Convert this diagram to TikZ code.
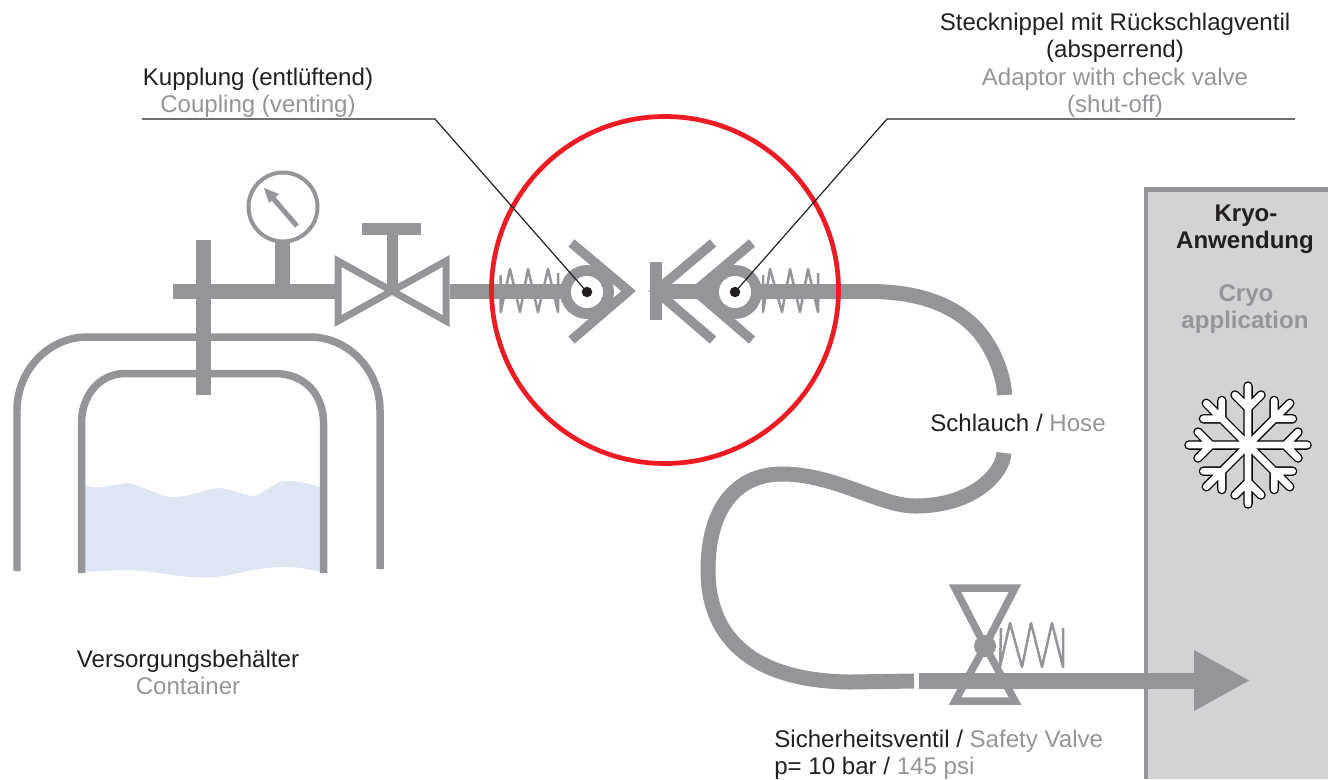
\documentclass[tikz,border=0pt]{standalone}
\usepackage{fontspec}
\setmainfont{Liberation Sans}
\definecolor{pipegrey}{HTML}{939598}
\definecolor{textgrey}{HTML}{939598}
\definecolor{textblack}{HTML}{231F20}
\definecolor{boxgrey}{HTML}{D1D3D4}
\definecolor{liquidblue}{HTML}{DFE6F3}
\definecolor{ringred}{HTML}{ED1C24}
\tikzset{
  pipe/.style={draw=pipegrey,line width=0.3cm},
  wall/.style={draw=pipegrey,line width=0.15cm},
  chevron/.style={draw=pipegrey,line width=0.19cm},
  coil/.style={draw=pipegrey,line width=0.05cm,line join=round},
  leader/.style={draw=textblack,line width=0.024cm},
  dot/.style={circle,fill=textblack,inner sep=0,minimum size=0.21cm},
  txt/.style={font=\fontsize{13.7}{15}\selectfont,inner sep=0,anchor=base,text=textblack},
  txtg/.style={txt,text=textgrey},
  boxtxt/.style={txt,font=\fontsize{13.7}{15}\selectfont\bfseries},
}
\begin{document}
\begin{tikzpicture}[x=0.02cm,y=-0.02cm]
      \useasboundingbox (0,0) rectangle (1328,779);

      % Application box
      \fill[boxgrey] (1146,190) rectangle (1328,779);
      \draw[wall,line width=0.086cm] (1146,779) -- (1146,189.5) -- (1328,189.5);

      % Container
      \fill[liquidblue] (84,483) .. controls (90,490) and (95,488) .. (127,483)
        .. controls (150,488) and (160,497) .. (172,497)
        .. controls (195,497) and (205,488) .. (220,488)
        .. controls (235,490) and (245,496) .. (254,496)
        .. controls (265,494) and (275,480) .. (287,481)
        .. controls (300,481) and (310,484) .. (321,487)
        -- (321,572) .. controls (305,568) and (295,567) .. (287,567)
        .. controls (265,567) and (245,571) .. (230,575)
        .. controls (215,578) and (200,578) .. (180,576)
        .. controls (160,573) and (140,570) .. (123,570)
        -- (84,572) -- cycle;
      \draw[wall] (17,571) -- (17,410) .. controls (17,371) and (48,337) .. (87,337)
        -- (310,337) .. controls (349,337) and (380,371) .. (380,410) -- (380,569);
      \draw[wall] (81.5,573) -- (81.5,423) .. controls (81.5,395) and (100,373.5) .. (125,373.5)
        -- (275,373.5) .. controls (305,373.5) and (323.5,395) .. (323.5,423) -- (323.5,573);

      % Springs
      \draw[coil] (500.7,275) -- (500.7,312) -- (510,269) -- (520,312) -- (528,269) -- (538,312) -- (548,269) -- (558,312) -- (558,273);
      \draw[coil] (763,275) -- (763,312) -- (770,269) -- (782,312) -- (790,269) -- (800,312) -- (808,269) -- (818,312) -- (818,273);
      \draw[coil] (1001,628) -- (1000,667) -- (1010,623) -- (1022,667) -- (1031,623) -- (1042,667) -- (1052,623) -- (1063,667) -- (1063,628);

      % Pipes
      \draw[pipe] (173,291) -- (335,291);
      \draw[pipe] (203,240) -- (203,395);
      \draw[pipe] (282,240) -- (282,291);
      \draw[pipe] (450,291) -- (587,291);
      \draw[pipe] (650,291.5) -- (870,291.5) .. controls (930,291.5) and (965,312) .. (983,337)
        .. controls (996,355) and (1004,378) .. (1004.5,395);
      \draw[pipe] (1004,453) .. controls (1003,472) and (975,506) .. (915,506)
        .. controls (880,506) and (835,474) .. (782,474)
        .. controls (735,474) and (708,510) .. (708,570)
        .. controls (708,640) and (755,681) .. (850,682) -- (914,681);

      % Gauge
      \draw[draw=pipegrey,line width=0.08cm,fill=white] (283,207) circle[radius=34.5];
      \draw[draw=pipegrey,line width=0.1cm] (297,226) -- (272,197);
      \fill[pipegrey] (264,188) -- (279,194) -- (269,203) -- cycle;

      % Shut-off valve
      \draw[wall,line width=0.14cm] (392,291) -- (338,261) -- (338,321) -- cycle;
      \draw[wall,line width=0.14cm] (392,291) -- (446,261) -- (446,321) -- cycle;
      \draw[pipe,line width=0.22cm] (392,291) -- (392,229);
      \draw[pipe,line width=0.24cm] (362,229) -- (421,229);

      % Coupling
      \draw[chevron,miter limit=10] (571.5,243) -- (628.6,291) -- (571.5,340);
      \fill[pipegrey] (587,292) circle[radius=27];
      \fill[white] (587,292) circle[radius=16];
      \node[dot] (kupplungdot) at (587,292) {};

      % Adaptor
      \draw[pipe,line width=0.24cm] (656,262) -- (656,320);
      \draw[chevron,miter limit=10] (713,243) -- (656,291) -- (713,340);
      \draw[chevron,miter limit=10] (752,243) -- (695,291) -- (752,340);
      \fill[pipegrey] (735,292) circle[radius=27];
      \fill[white] (735,292) circle[radius=16];
      \node[dot] (adaptordot) at (735,292) {};

      % Safety valve
      \draw[wall,line width=0.15cm] (985,646) -- (955,588) -- (1015,588) -- cycle;
      \draw[wall,line width=0.15cm] (985,646) -- (955,701) -- (1015,701) -- cycle;
      \fill[pipegrey] (985,646) circle[radius=11];
      \draw[pipe,line width=0.31cm] (919,681) -- (1195,681);
      \fill[pipegrey] (1194,650) -- (1249,680.5) -- (1194,711) -- cycle;

      % Ring
      \draw[draw=ringred,line width=0.095cm] (665,290) circle[radius=173.5];

      % Leaders
      \coordinate (kupplungstart) at (142,119);
      \coordinate (kupplungknee) at (435,119);
      \coordinate (adaptorstart) at (1295,119);
      \coordinate (adaptorknee) at (887,119);
      \draw[leader] (kupplungstart) -- (kupplungknee) -- (kupplungdot.center);
      \draw[leader] (adaptorstart) -- (adaptorknee) -- (adaptordot.center);

      % Snowflake
      \foreach \a in {0,45,...,315} {
        \begin{scope}[shift={(1248,445)},rotate=\a]
          \draw[black,line width=0.19cm,line cap=round,line join=round] (0,0) -- (59,0) (50,13) -- (37,0) -- (50,-13);
        \end{scope}
      }
      \foreach \a in {0,45,...,315} {
        \begin{scope}[shift={(1248,445)},rotate=\a]
          \draw[white,line width=0.135cm,line cap=round,line join=round] (0,0) -- (59,0) (50,13) -- (37,0) -- (50,-13);
        \end{scope}
      }

      % Labels
      \node[txt] (steck) at (1115,30) {Stecknippel mit Rückschlagventil};
      \node[txt] (absp) at (1115,57) {(absperrend)};
      \node[txtg] (adaptor) at (1115,85) {Adaptor with check valve};
      \node[txtg] (shut) at (1115,112) {(shut-off)};
      \node[txt] (kupplung) at (258,85) {Kupplung (entlüftend)};
      \node[txtg] (coupling) at (258,112) {Coupling (venting)};
      \node[txt] (schlauch) at (1018,431) {Schlauch / \textcolor{textgrey}{Hose}};
      \node[txt] (versorgung) at (188,667) {Versorgungsbehälter};
      \node[txtg] (container) at (188,694) {Container};
      \node[txt,anchor=base west] (sicher) at (774,747) {Sicherheitsventil / \textcolor{textgrey}{Safety Valve}};
      \node[txt,anchor=base west] (druck) at (774,774) {p= 10 bar / \textcolor{textgrey}{145 psi}};
      \node[boxtxt] (kryo) at (1246,221) {Kryo-};
      \node[boxtxt] (anwendung) at (1245,248) {Anwendung};
      \node[boxtxt,text=textgrey] (cryo) at (1246,301) {Cryo};
      \node[boxtxt,text=textgrey] (application) at (1245,328) {application};

\end{tikzpicture}
\end{document}
